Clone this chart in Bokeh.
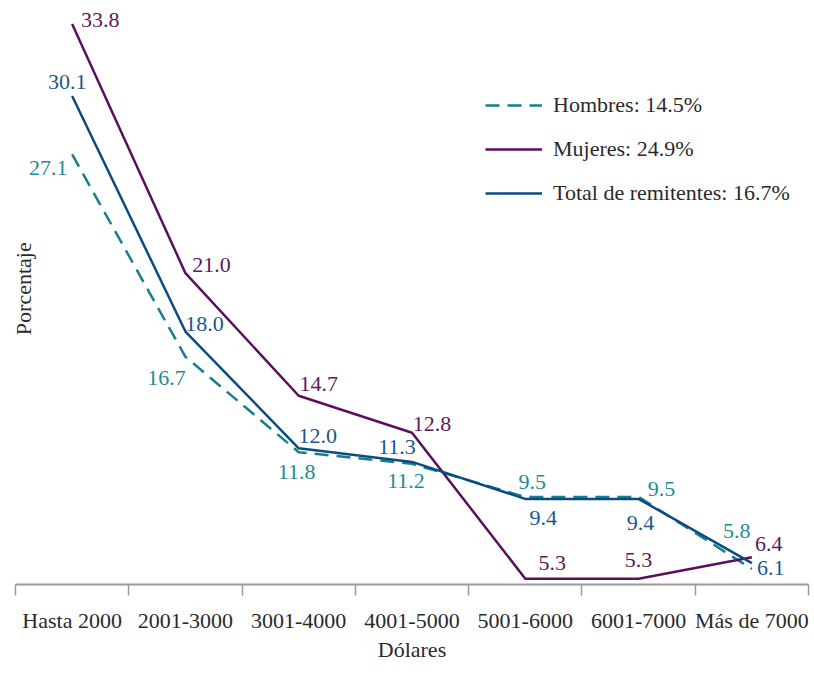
from bokeh.plotting import figure
from bokeh.models import FixedTicker, Legend, LegendItem, Label
from bokeh.embed import file_html
from bokeh.resources import INLINE

categories = ["Hasta 2000", "2001-3000", "3001-4000", "4001-5000", "5001-6000", "6001-7000", "Más de 7000"]
hombres = [27.1, 16.7, 11.8, 11.2, 9.5, 9.5, 5.8]
mujeres = [33.8, 21.0, 14.7, 12.8, 5.3, 5.3, 6.4]
total = [30.1, 18.0, 12.0, 11.3, 9.4, 9.4, 6.1]
legend_labels = ["Hombres: 14.5%", "Mujeres: 24.9%", "Total de remitentes: 16.7%"]

# label offsets in screen pixels (style)
h_dx = [-24, -19, -2, -6, 7, 23, -15]
h_dy = [14, 21, 20, 17, -15, -8, -38]
m_dx = [28, 26, 20, 20, 27, 0, 17]
m_dy = [-4, -8, -12, -9, -16, -19, -13]
t_dx = [-5, 19, 19, -15, 18, 2, 19]
t_dy = [-14, -8, -12, -15, 19, 24, 5]

FONT = "Liberation Serif"
C_H, C_M, C_T = "#167f8c", "#5a0f5c", "#0b4b84"
T_H, T_M, T_T = "#1f8a96", "#5e1760", "#1b568c"

xs = [i + 0.5 for i in range(len(categories))]

p = figure(frame_width=793, frame_height=576, x_range=(0, 7), y_range=(5, 34.6),
           output_backend="svg", toolbar_location=None, y_axis_location=None,
           min_border_left=15, min_border_right=4, min_border_top=8, min_border_bottom=76)
p.outline_line_alpha = 0
p.xgrid.grid_line_color = None
p.ygrid.grid_line_color = None

ax = p.xaxis[0]
ax.ticker = FixedTicker(ticks=xs, minor_ticks=list(range(len(categories) + 1)))
ax.major_label_overrides = {x: c for x, c in zip(xs, categories)}
ax.major_tick_line_color = None
ax.major_tick_out = 0
ax.major_tick_in = 0
ax.minor_tick_out = 11
ax.minor_tick_in = 0
ax.minor_tick_line_color = "#9a9a9a"
ax.minor_tick_line_width = 1.5
ax.axis_line_color = "#9a9a9a"
ax.axis_line_width = 2
ax.major_label_text_font = FONT
ax.major_label_text_font_size = "22px"
ax.major_label_text_color = "#2a2a2a"
ax.major_label_standoff = 12
ax.axis_label = "Dólares"
ax.axis_label_text_font = FONT
ax.axis_label_text_font_size = "22px"
ax.axis_label_text_font_style = "normal"
ax.axis_label_text_color = "#2a2a2a"
ax.axis_label_standoff = 1

r_h = p.line(xs, hombres, line_color=C_H, line_width=2.5, line_dash="14 8")
r_m = p.line(xs, mujeres, line_color=C_M, line_width=2.5)
r_t = p.line(xs, total, line_color=C_T, line_width=2.5)

for vals, dx, dy, col in [(hombres, h_dx, h_dy, T_H), (mujeres, m_dx, m_dy, T_M), (total, t_dx, t_dy, T_T)]:
    for x, v, ox, oy in zip(xs, vals, dx, dy):
        p.add_layout(Label(x=x, y=v, x_offset=ox, y_offset=-oy, text=f"{v:.1f}",
                           text_font=FONT, text_font_size="22px", text_color=col,
                           text_align="center", text_baseline="middle"))

p.add_layout(Label(x=0.07, y=20.2, text="Porcentaje", angle=1.5708, text_font=FONT,
                   text_font_size="22px", text_color="#2a2a2a", text_align="center",
                   text_baseline="middle"))

legend = Legend(items=[LegendItem(label=legend_labels[0], renderers=[r_h]),
                       LegendItem(label=legend_labels[1], renderers=[r_m]),
                       LegendItem(label=legend_labels[2], renderers=[r_t])],
                location=(470, 376), glyph_width=57, glyph_height=30, label_height=30,
                label_standoff=11, spacing=14, padding=0, margin=0,
                border_line_color=None, background_fill_alpha=0,
                label_text_font=FONT, label_text_font_size="22px", label_text_color="#2a2a2a")
p.add_layout(legend, "center")

open("out.html", "w").write(file_html(p, INLINE))
